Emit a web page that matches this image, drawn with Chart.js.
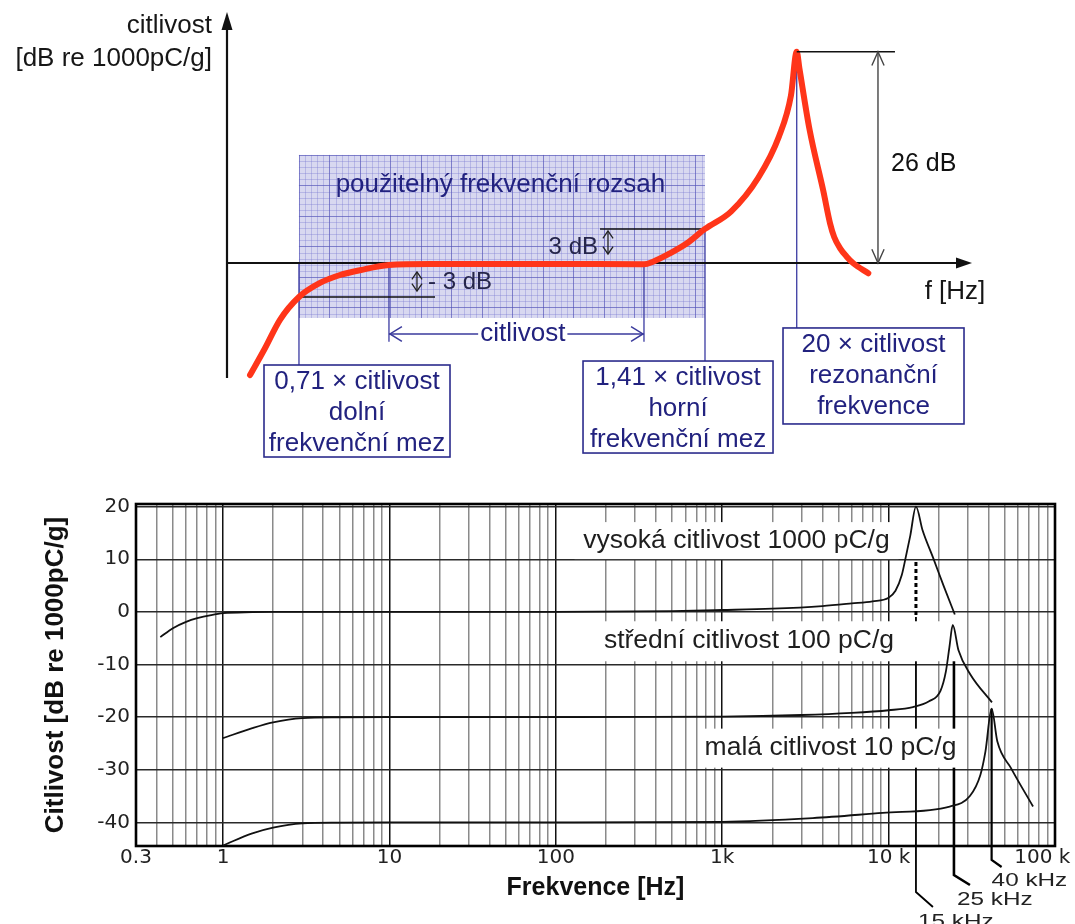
<!DOCTYPE html>
<html><head><meta charset="utf-8">
<script src="https://cdn.jsdelivr.net/npm/chart.js@4.4.1/dist/chart.umd.min.js"></script>
<style>
html,body{margin:0;padding:0;background:#fff;}
#wrap{position:relative;width:1075px;height:924px;overflow:hidden;background:#fff;}
canvas{position:absolute;left:0;}
#top{top:0;}
#bottom{top:470px;}
</style></head><body>
<div id="wrap"><canvas id="top" width="1075" height="470"></canvas><canvas id="bottom" width="1075" height="454"></canvas></div>
<script>
// ================= DATA =================
// --- top schematic: relative frequency (arbitrary units) and level (dB) of the red curve
const schemeF  = [3.09, 5.10, 7.11, 9.66, 12.48, 15.17, 17.99, 21.74, 27.25, 43.36, 55.97, 57.18, 59.46, 61.74, 64.16, 67.65, 71.33, 74.09, 75.70, 76.47, 76.83, 78.2, 80.04, 80.94, 81.5, 82.3, 83.18, 84.07, 86.08];
const schemeDb = [-13.8, -10.5, -7.0, -4.19, -2.46, -1.48, -0.86, -0.25, -0.12, -0.12, -0.16, 0.16, 1.19, 2.43, 4.19, 6.33, 10.53, 15.58, 20.62, 26.0, 23.98, 16.4, 8.87, 4.9, 3.2, 1.8, 0.78, -0.04, -1.27];
const schemeMarks  = {lower: 9.66, flatStart: 21.74, flatEnd: 55.97, upper: 64.16, resonance: 76.47};
const schemeLevels = {minus3: -4.19, plus3: 4.19, peak: 26};
const rangeBand    = {top: 13.3, bottom: -6.77};

// --- bottom chart: frequency (Hz) and sensitivity (dB re 1000 pC/g)
const freqHigh = [0.42, 0.5, 0.6, 0.7, 0.85, 1, 1.5, 2, 10, 100, 500, 1000, 2000, 4000, 6000, 8000, 10000, 11000, 12000, 12700, 13500, 14600, 16000, 18500, 21500, 25000];
const dbHigh   = [-4.8, -3.1, -1.9, -1.2, -0.6, -0.25, -0.05, 0, 0, 0, 0.15, 0.35, 0.6, 1.1, 1.6, 2.0, 2.7, 4.0, 7.0, 10.5, 14.5, 20, 15.5, 10.3, 4.8, -0.5];
const freqMid  = [1, 1.5, 2, 3, 5, 10, 100, 1000, 3000, 6000, 10000, 14000, 17500, 20500, 22100, 23200, 24300, 26300, 31000, 41800];
const dbMid    = [-24, -22.1, -21.0, -20.2, -20.05, -20, -20, -19.9, -19.6, -19.2, -18.7, -18.1, -17, -15, -11.3, -6.7, -2.5, -7.3, -11.9, -17.2];
const freqLow  = [1, 1.5, 2, 3, 5, 10, 100, 1000, 3500, 9200, 23300, 30800, 35600, 38200, 41600, 45000, 54400, 73800];
const dbLow    = [-44.4, -42.1, -41.0, -40.2, -40.05, -40, -40, -39.9, -39.2, -38.2, -37, -35, -31, -26.5, -18.4, -24.6, -29.7, -37];

const xLabelValues = [0.3, 1, 10, 100, 1000, 10000, 100000];
const xLabelTexts  = ['0.3', '1', '10', '100', '1k', '10 k', '100 k\u2007\u2007'];
const yTickValues  = [-40, -30, -20, -10, 0, 10, 20];

const resonanceF      = [14600, 24700, 41600];
const resonanceLabels = ['15 kHz', '25 kHz', '40 kHz'];
const resonanceTopDb  = [-1, -9, -18.4];
const dashedSpanDb    = [9.5, -1];

const curveNoteTexts = ['vysoká citlivost 1000 pC/g', 'střední citlivost 100 pC/g', 'malá citlivost 10 pC/g'];
const curveNoteF     = [1219, 1449, 4477];
const curveNoteDb    = [13.45, -5.4, -25.9];

// grid values of the log axis (1..9 per decade)
const xGridValues = [];
[0.1, 1, 10, 100, 1000, 10000].forEach(d => [1,2,3,4,5,6,7,8,9].forEach(m => {
  const v = +(d * m).toPrecision(3);
  if (v >= 0.3 && v <= 100000) xGridValues.push(v);
}));
xGridValues.push(100000);

// ================= HELPERS =================
const SANS = '"Liberation Sans", Arial, Helvetica, sans-serif';
const DEJA = '"DejaVu Sans", sans-serif';
function chevron(ctx, x, y, ang, len, spread) {
  ctx.beginPath();
  ctx.moveTo(x - len * Math.cos(ang - spread), y - len * Math.sin(ang - spread));
  ctx.lineTo(x, y);
  ctx.lineTo(x - len * Math.cos(ang + spread), y - len * Math.sin(ang + spread));
  ctx.stroke();
}
function seg(ctx, x1, y1, x2, y2) { ctx.beginPath(); ctx.moveTo(x1, y1); ctx.lineTo(x2, y2); ctx.stroke(); }
function glyph(ctx, cx, y1, y2) {
  seg(ctx, cx, y1, cx, y2);
  chevron(ctx, cx, y1, -Math.PI / 2, 9, 0.6);
  chevron(ctx, cx, y2, Math.PI / 2, 9, 0.6);
}

// ================= TOP SCHEMATIC =================
const schemeBoxes = [
  {cx: 17.45, top: -12.56, w: 186, h: 92, lines: ['0,71 × citlivost', 'dolní', 'frekvenční mez']},
  {cx: 60.54, top: -12.07, w: 190, h: 92, lines: ['1,41 × citlivost', 'horní', 'frekvenční mez']},
  {cx: 86.78, top: -8.0,  w: 181, h: 96, lines: ['20 × citlivost', 'rezonanční', 'frekvence']}
];
const schemeText = {rangeX: 36.7, rangeY: 9.6, citY: -8.74, citTick: -9.7, citX: 39.7,
  minus3End: 27.92, plus3Start: 50.07, upGlyph: 51.14, lowGlyph: 25.5, dbArrowX: 87.38, peakLineEnd: 89.66, dbLabelY: 12.2};

const topDecor = {
  id: 'topDecor',
  beforeDatasetsDraw(chart) {
    const {ctx, chartArea: a, scales: {x, y}} = chart;
    const X = v => x.getPixelForValue(v), Y = v => y.getPixelForValue(v);
    const y0 = Y(0);
    ctx.save();
    // shaded usable range with graph-paper grid
    const bl = X(schemeMarks.lower), br = X(schemeMarks.upper), bt = Y(rangeBand.top), bb = Y(rangeBand.bottom);
    ctx.fillStyle = '#d8d8f0';
    ctx.fillRect(bl, bt, br - bl, bb - bt);
    const grid = (step, color) => {
      ctx.strokeStyle = color; ctx.lineWidth = 1; ctx.beginPath();
      for (let p = bl; p <= br + 0.5; p += step) { const q = Math.round(p) + 0.5; ctx.moveTo(q, bt); ctx.lineTo(q, bb); }
      for (let p = bt; p <= bb + 0.5; p += step) { const q = Math.round(p) + 0.5; ctx.moveTo(bl, q); ctx.lineTo(br, q); }
      ctx.stroke();
    };
    grid(6.1, 'rgba(120,120,210,0.35)');
    grid(30.5, 'rgba(80,80,180,0.55)');
    // text in band
    ctx.fillStyle = '#22227f';
    ctx.font = '26px ' + SANS;
    ctx.textAlign = 'center'; ctx.textBaseline = 'middle';
    ctx.fillText('použitelný frekvenční rozsah', X(schemeText.rangeX), Y(schemeText.rangeY));
    // blue guide lines
    ctx.strokeStyle = '#4848a8'; ctx.lineWidth = 1.4;
    seg(ctx, X(schemeMarks.lower), y0, X(schemeMarks.lower), Y(schemeBoxes[0].top));
    seg(ctx, X(schemeMarks.flatStart), y0, X(schemeMarks.flatStart), Y(schemeText.citTick));
    seg(ctx, X(schemeMarks.flatEnd), y0, X(schemeMarks.flatEnd), Y(schemeText.citTick));
    seg(ctx, X(schemeMarks.upper), Y(schemeLevels.plus3), X(schemeMarks.upper), Y(schemeBoxes[1].top));
    seg(ctx, X(schemeMarks.resonance), Y(schemeLevels.peak), X(schemeMarks.resonance), Y(schemeBoxes[2].top));
    // +-3 dB lines
    ctx.strokeStyle = '#111'; ctx.lineWidth = 1.6;
    seg(ctx, X(schemeMarks.lower), Y(schemeLevels.minus3), X(schemeText.minus3End), Y(schemeLevels.minus3));
    seg(ctx, X(schemeText.plus3Start), Y(schemeLevels.plus3), X(schemeMarks.upper), Y(schemeLevels.plus3));
    // axes
    ctx.strokeStyle = '#111'; ctx.lineWidth = 2.2;
    seg(ctx, a.left, a.bottom, a.left, a.top + 10);
    seg(ctx, a.left, y0, a.right - 10, y0);
    ctx.fillStyle = '#111';
    ctx.beginPath(); ctx.moveTo(a.left, a.top); ctx.lineTo(a.left - 5.5, a.top + 18); ctx.lineTo(a.left + 5.5, a.top + 18); ctx.closePath(); ctx.fill();
    ctx.beginPath(); ctx.moveTo(a.right, y0); ctx.lineTo(a.right - 16, y0 - 5.5); ctx.lineTo(a.right - 16, y0 + 5.5); ctx.closePath(); ctx.fill();
    // axis labels
    ctx.fillStyle = '#161616'; ctx.font = '26px ' + SANS;
    ctx.textAlign = 'right';
    ctx.fillText('citlivost', a.left - 15, a.top + 14);
    ctx.fillText('[dB re 1000pC/g]', a.left - 15, a.top + 47);
    ctx.textAlign = 'center';
    ctx.fillText('f [Hz]', a.right - 17, y0 + 29);
    ctx.restore();
  },
  afterDatasetsDraw(chart) {
    const {ctx, scales: {x, y}} = chart;
    const X = v => x.getPixelForValue(v), Y = v => y.getPixelForValue(v);
    const y0 = Y(0);
    ctx.save();
    // 3 dB glyphs & texts
    ctx.strokeStyle = '#222'; ctx.lineWidth = 1.3;
    glyph(ctx, X(schemeText.upGlyph), Y(schemeLevels.plus3) + 2, y0 - 9);
    glyph(ctx, X(schemeText.lowGlyph), y0 + 9, Y(schemeLevels.minus3) - 6);
    ctx.fillStyle = '#25254a'; ctx.font = '24px ' + SANS; ctx.textBaseline = 'middle';
    ctx.textAlign = 'right';
    ctx.fillText('3 dB', X(schemeText.upGlyph) - 10, Y(schemeLevels.plus3) + 18);
    ctx.textAlign = 'left';
    ctx.fillText('- 3 dB', X(schemeText.lowGlyph) + 11, Y(schemeLevels.minus3) - 15);
    // 26 dB dimension
    ctx.strokeStyle = '#111'; ctx.lineWidth = 1.5;
    seg(ctx, X(schemeMarks.resonance), Y(schemeLevels.peak), X(schemeText.peakLineEnd), Y(schemeLevels.peak));
    ctx.strokeStyle = '#444'; ctx.lineWidth = 1.4;
    const ax = X(schemeText.dbArrowX);
    seg(ctx, ax, Y(schemeLevels.peak), ax, y0);
    chevron(ctx, ax, Y(schemeLevels.peak), -Math.PI / 2, 15, 0.42);
    chevron(ctx, ax, y0, Math.PI / 2, 15, 0.42);
    ctx.fillStyle = '#111'; ctx.font = '25px ' + SANS; ctx.textAlign = 'left';
    ctx.fillText('26 dB', ax + 13, Y(schemeText.dbLabelY));
    // citlivost span arrow
    const cy = Y(schemeText.citY), c1 = X(schemeMarks.flatStart), c2 = X(schemeMarks.flatEnd);
    ctx.strokeStyle = '#3a3a9c'; ctx.lineWidth = 1.5;
    seg(ctx, c1, cy, c2, cy);
    chevron(ctx, c1 + 1, cy, Math.PI, 14, 0.55);
    chevron(ctx, c2 - 1, cy, 0, 14, 0.55);
    ctx.font = '26px ' + SANS; ctx.textAlign = 'center';
    const tw = ctx.measureText('citlivost').width;
    ctx.fillStyle = '#fff';
    ctx.fillRect(X(schemeText.citX) - tw / 2 - 2, cy - 12, tw + 4, 24);
    ctx.fillStyle = '#22227f';
    ctx.fillText('citlivost', X(schemeText.citX), cy);
    // boxes
    schemeBoxes.forEach(b => {
      const cx = X(b.cx), top = Y(b.top);
      ctx.fillStyle = '#fff';
      ctx.fillRect(cx - b.w / 2, top, b.w, b.h);
      ctx.strokeStyle = '#2b2b8c'; ctx.lineWidth = 1.6;
      ctx.strokeRect(cx - b.w / 2, top, b.w, b.h);
      ctx.fillStyle = '#22227f'; ctx.font = '26px ' + SANS; ctx.textAlign = 'center';
      b.lines.forEach((t, i) => ctx.fillText(t, cx, top + 17 + i * 30.8));
    });
    ctx.restore();
  }
};

new Chart(document.getElementById('top'), {
  type: 'line',
  data: {datasets: [{
    data: schemeF.map((f, i) => ({x: f, y: schemeDb[i]})),
    borderColor: '#ff3519', borderWidth: 6, pointRadius: 0,
    cubicInterpolationMode: 'monotone', borderCapStyle: 'round', borderJoinStyle: 'round', clip: false
  }]},
  options: {
    responsive: false, animation: false, devicePixelRatio: 1,
    layout: {padding: {left: 227, right: 103, top: 12, bottom: 92}},
    plugins: {legend: {display: false}, tooltip: {enabled: false}},
    scales: {
      x: {type: 'linear', min: 0, max: 100, display: false},
      y: {type: 'linear', min: -14.16, max: 30.9, display: false}
    }
  },
  plugins: [topDecor]
});

// ================= BOTTOM CHART =================
const leaderGeom = [
  {drop: 46, dx: 17, dy: 15, tx: 2, ty: 15, w: 1.8},
  {drop: 29, dx: 16, dy: 10, tx: 3, ty: 15, w: 2.6},
  {drop: 14, dx: 10, dy: 7,  tx: 0, ty: 14, w: 2.2}
];
const noteBoxes = [
  {l: 162, r: 162, t: 19, b: 18},
  {l: 155, r: 213, t: 19, b: 21},
  {l: 132, r: 132, t: 19.5, b: 19.5}
];
const bottomDecor = {
  id: 'bottomDecor',
  beforeDatasetsDraw(chart) {
    const {ctx, chartArea: a, scales: {x, y}} = chart;
    ctx.save();
    // dashed resonance marker for the high sensitivity curve
    ctx.strokeStyle = '#000'; ctx.lineWidth = 3; ctx.setLineDash([4, 3]);
    seg(ctx, x.getPixelForValue(resonanceF[0]), y.getPixelForValue(dashedSpanDb[0]), x.getPixelForValue(resonanceF[0]), y.getPixelForValue(dashedSpanDb[1]));
    ctx.setLineDash([]);
    // resonance leader lines
    resonanceF.forEach((f, i) => {
      const g = leaderGeom[i], px = x.getPixelForValue(f), yEnd = a.bottom + g.drop;
      ctx.strokeStyle = '#000'; ctx.lineWidth = g.w;
      ctx.beginPath();
      ctx.moveTo(px, y.getPixelForValue(resonanceTopDb[i]));
      ctx.lineTo(px, yEnd);
      ctx.lineTo(px + g.dx, yEnd + g.dy);
      ctx.stroke();
    });
    // white label boxes
    curveNoteTexts.forEach((t, i) => {
      const cx = x.getPixelForValue(curveNoteF[i]), cy = y.getPixelForValue(curveNoteDb[i]), nb = noteBoxes[i];
      ctx.fillStyle = '#fff';
      ctx.fillRect(cx - nb.l, cy - nb.t, nb.l + nb.r, nb.t + nb.b);
    });
    ctx.fillStyle = '#1e1e1e'; ctx.font = '26.5px ' + SANS; ctx.textAlign = 'center'; ctx.textBaseline = 'middle';
    curveNoteTexts.forEach((t, i) => {
      ctx.fillText(t, x.getPixelForValue(curveNoteF[i]), y.getPixelForValue(curveNoteDb[i]));
    });
    // kHz labels (slightly widened type like the original)
    ctx.fillStyle = '#222'; ctx.font = '18px ' + SANS; ctx.textAlign = 'left';
    resonanceF.forEach((f, i) => {
      const g = leaderGeom[i], px = x.getPixelForValue(f);
      ctx.save();
      ctx.translate(px + g.tx, a.bottom + g.drop + g.dy + g.ty);
      ctx.scale(1.35, 1);
      ctx.fillText(resonanceLabels[i], 0, 0);
      ctx.restore();
    });
    // frame
    ctx.strokeStyle = '#000'; ctx.lineWidth = 2.6;
    ctx.strokeRect(a.left, a.top, a.right - a.left, a.bottom - a.top);
    ctx.restore();
  }
};

const isDecade = v => Math.abs(Math.log10(v) - Math.round(Math.log10(v))) < 1e-6;
const mk = (fs, ds) => ({
  data: fs.map((f, i) => ({x: f, y: ds[i]})),
  borderColor: '#111', borderWidth: 1.8, pointRadius: 0, fill: false,
  cubicInterpolationMode: 'monotone'
});

new Chart(document.getElementById('bottom'), {
  type: 'line',
  data: {datasets: [mk(freqHigh, dbHigh), mk(freqMid, dbMid), mk(freqLow, dbLow)]},
  options: {
    responsive: false, animation: false, devicePixelRatio: 1,
    layout: {padding: {left: 0, right: 20, top: 34, bottom: 0}},
    plugins: {legend: {display: false}, tooltip: {enabled: false}},
    scales: {
      x: {
        type: 'logarithmic', min: 0.3, max: 100000,
        afterBuildTicks: s => { s.ticks = xGridValues.map(v => ({value: v})); },
        afterFit: s => { s.height = 78; s.paddingLeft = 0; s.paddingRight = 0; },
        ticks: {
          autoSkip: false, maxRotation: 0, minRotation: 0, padding: 0, color: '#222',
          font: {family: DEJA, size: 20},
          callback: v => { const i = xLabelValues.findIndex(t => Math.abs(t - v) / t < 1e-6); return i >= 0 ? xLabelTexts[i] : ''; }
        },
        grid: {drawTicks: false, color: c => (c.tick && isDecade(c.tick.value)) ? '#111' : '#8a8a8a', lineWidth: 1.5},
        border: {display: false},
        title: {display: true, text: 'Frekvence [Hz]', color: '#111', font: {family: SANS, size: 25, weight: 'bold'}, padding: {top: 0, bottom: 21}}
      },
      y: {
        type: 'linear', min: -44.5, max: 20.5,
        afterBuildTicks: s => { s.ticks = yTickValues.map(v => ({value: v})); },
        afterFit: s => { s.width = 136; s.paddingTop = 0; s.paddingBottom = 0; },
        ticks: {padding: 6, color: '#222', font: {family: DEJA, size: 20}, callback: v => String(v)},
        grid: {drawTicks: false, color: '#2a2a2a', lineWidth: 1.4},
        border: {display: false},
        title: {display: true, text: 'Citlivost [dB re 1000pC/g]', color: '#111', font: {family: SANS, size: 26, weight: 'bold'}, padding: {top: 40, bottom: 0}}
      }
    }
  },
  plugins: [bottomDecor]
});
</script>
</body></html>
